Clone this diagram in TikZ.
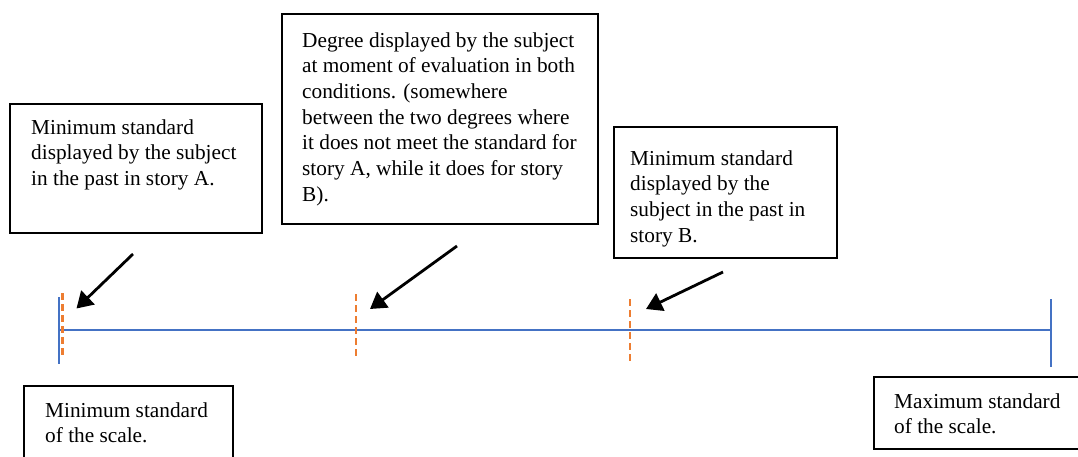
\documentclass[tikz,border=0pt]{standalone}
\usepackage{fontspec}
\setmainfont{Liberation Serif}
\usetikzlibrary{arrows.meta,calc}
\definecolor{axisblue}{HTML}{4472C4}
\definecolor{markorange}{HTML}{ED7D31}
\tikzset{
  boxframe/.style={draw=black, line width=2pt, fill=white, inner sep=0pt, anchor=north west},
  boxtext/.style={inner sep=0pt, anchor=base west, align=left, font=\fontsize{21.3}{25.7}\selectfont},
  scaleline/.style={draw=axisblue, line width=1.5pt},
  marker/.style={draw=markorange, line width=2.2pt, dash pattern=on 7pt off 4pt},
  pointer/.style={draw=black, line width=2.8pt, -{Triangle[length=16pt,width=19pt]}}
}
\begin{document}
\begin{tikzpicture}[x=1pt,y=-1pt]
\useasboundingbox (0,0) rectangle (1078,456);
\clip (0,0) rectangle (1078,456);
% scale
\coordinate (s0) at (59,330);
\coordinate (s1) at (1051,330);
\draw[scaleline] (s0) -- (s1);
\draw[scaleline] (59,297) coordinate (t0a) -- (59,364) coordinate (t0b);
\draw[scaleline] (1051,299) coordinate (t1a) -- (1051,367) coordinate (t1b);
% markers
\coordinate (mA) at (62.5,293);
\coordinate (mAb) at (62.5,358);
\coordinate (mE) at (356,294);
\coordinate (mEb) at (356,358);
\coordinate (mB) at (630,299);
\coordinate (mBb) at (630,363);
\draw[marker] (mA) -- (mAb);
\draw[marker] (mE) -- (mEb);
\draw[marker] (mB) -- (mBb);
% boxes (text nodes: base anchor = baseline of last line)
\node[boxframe, minimum width=252pt, minimum height=129pt] (b1) at (9,103) {};
\node[boxtext] (b1t) at ($(b1.north west)+(22,82.4)$) {Minimum standard\\displayed by the subject\\in the past in story A.};
\node[boxframe, minimum width=316pt, minimum height=210pt] (b2) at (281,13) {};
\node[boxtext] (b2t) at ($(b2.north west)+(21,188.2)$) {Degree displayed by the subject\\at moment of evaluation in both\\conditions. (somewhere\\between the two degrees where\\it does not meet the standard for\\story A, while it does for story\\B).};
\node[boxframe, minimum width=223pt, minimum height=131pt] (b3) at (613,126) {};
\node[boxtext] (b3t) at ($(b3.north west)+(17,116.1)$) {Minimum standard\\displayed by the\\subject in the past in\\story B.};
\node[boxframe, minimum width=209pt, minimum height=90pt] (b4) at (23,385) {};
\node[boxtext] (b4t) at ($(b4.north west)+(22,57.7)$) {Minimum standard\\of the scale.};
\node[boxframe, minimum width=230pt, minimum height=72pt] (b5) at (873,376) {};
\node[boxtext] (b5t) at ($(b5.north west)+(21,57.7)$) {Maximum standard\\of the scale.};
% pointers
\coordinate (p1s) at (133,254);
\coordinate (p1e) at (76.5,308.5);
\coordinate (p2s) at (457,246);
\coordinate (p2e) at (370,309);
\coordinate (p3s) at (723,272);
\coordinate (p3e) at (646,309);
\draw[pointer] (p1s) -- (p1e);
\draw[pointer] (p2s) -- (p2e);
\draw[pointer] (p3s) -- (p3e);
\end{tikzpicture}
\end{document}
